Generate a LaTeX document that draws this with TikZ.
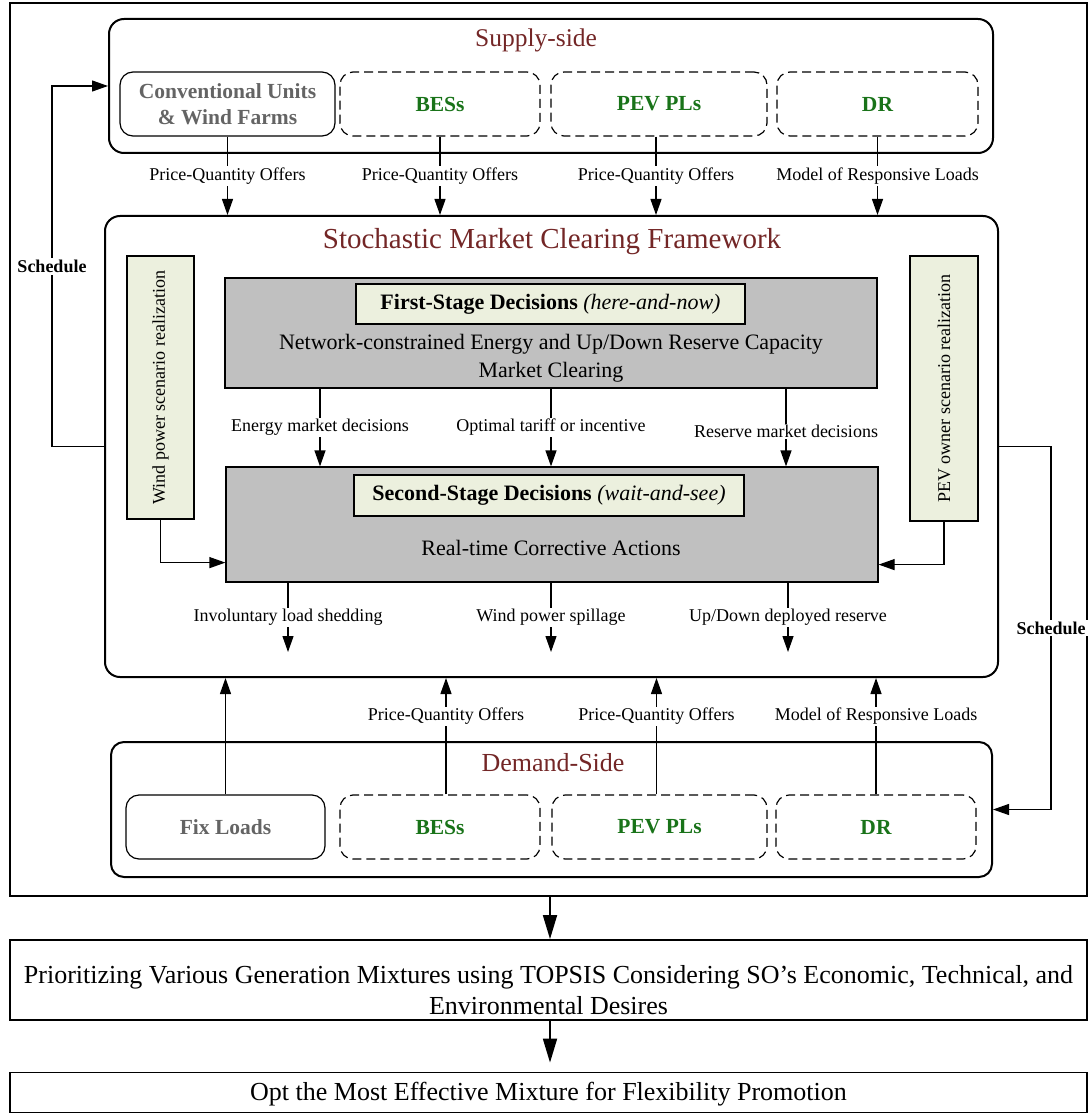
\documentclass[tikz,border=0pt]{standalone}
\usepackage{fontspec}
\setmainfont{Liberation Serif}
\usetikzlibrary{arrows.meta,calc}
\definecolor{titlered}{RGB}{115,38,38}
\definecolor{grn}{RGB}{25,115,25}
\definecolor{txtgray}{RGB}{100,100,100}
\definecolor{beige}{RGB}{236,240,222}
\definecolor{boxgray}{RGB}{192,192,192}
\newcommand\fsz[2]{\fontsize{#1}{#2}\selectfont}
\begin{document}
\begin{tikzpicture}[x=1pt,y=-1pt,
  plainbox/.style={draw, line width=1.5pt, inner sep=0pt},
  bigbox/.style={draw, line width=2pt, rounded corners=15pt, inner sep=0pt},
  solidsub/.style={draw, line width=1.2pt, rounded corners=13pt, inner sep=0pt, text=txtgray, font=\fsz{21.5}{26}\bfseries, align=center},
  dashsub/.style={draw, line width=1.2pt, dash pattern=on 9pt off 5pt, rounded corners=13pt, inner sep=0pt, text=grn, font=\fsz{21.5}{25}\bfseries},
  graybox/.style={draw, line width=1.2pt, fill=boxgray, inner sep=0pt},
  tagbox/.style={draw, line width=1.2pt, fill=beige, inner sep=0pt},
  title/.style={text=titlered, inner sep=0pt},
  arr/.style={-{Triangle[length=16pt,width=11pt]}, line width=1.2pt},
  bigarr/.style={-{Triangle[length=24pt,width=14pt]}, line width=1.8pt},
  lbl/.style={fill=white, inner sep=1.5pt, font=\fsz{18}{20}},
  sched/.style={fill=white, inner sep=2pt, font=\fsz{18}{20}\bfseries},
  rot/.style={rotate=90, inner sep=0pt, font=\fsz{18}{20}}
]
\useasboundingbox (0,0) rectangle (1089,1115);

% outer frame
\node[plainbox, minimum width=1077pt, minimum height=893pt] (frame) at (548.5,449.5) {};

% supply side
\node[bigbox, minimum width=884pt, minimum height=134pt] (supply) at (551,86) {};
\node[title, font=\fsz{25.5}{28}] (suptitle) at (536,40) {Supply-side};
\node[solidsub, minimum width=215pt, minimum height=64pt] (conv) at (227.5,104) {Conventional Units\\\& Wind Farms};
\node[dashsub, minimum width=200pt, minimum height=64pt] (sBES) at (440,104) {BESs};
\node[dashsub, minimum width=216pt, minimum height=64pt] (sPEV) at (659,104) {PEV PLs};
\node[dashsub, minimum width=201pt, minimum height=64pt] (sDR) at (877.5,104) {DR};

% stochastic framework
\node[bigbox, minimum width=893pt, minimum height=461pt] (stoch) at (551.5,446.5) {};
\node[title, font=\fsz{29}{32}] (stitle) at (552,242) {Stochastic Market Clearing Framework};

\node[tagbox, minimum width=67pt, minimum height=263pt] (wind) at (160.5,387.5) {};
\node[rot] (windtxt) at (wind.center) {Wind power scenario realization};
\node[tagbox, minimum width=68pt, minimum height=265pt] (pevo) at (944,388.5) {};
\node[rot] (pevotxt) at (pevo.center) {PEV owner scenario realization};

\node[graybox, minimum width=652pt, minimum height=110pt] (first) at (551,333) {};
\node[tagbox, minimum width=389pt, minimum height=40pt, font=\fsz{22}{24}] (firstlab) at (550.5,304) {\textbf{First-Stage Decisions} \textit{(here-and-now)}};
\node[inner sep=0pt, align=center, font=\fsz{22}{28}] (firsttxt) at (551,358) {Network-constrained Energy and Up/Down Reserve Capacity\\Market Clearing};

\node[graybox, minimum width=652pt, minimum height=115pt] (second) at (552,524.5) {};
\node[tagbox, minimum width=390pt, minimum height=41pt, font=\fsz{22}{24}] (secondlab) at (549,495.5) {\textbf{Second-Stage Decisions} \textit{(wait-and-see)}};
\node[inner sep=0pt, font=\fsz{22}{24}] (secondtxt) at (551,548) {Real-time Corrective Actions};

% demand side
\node[bigbox, rounded corners=13pt, minimum width=881pt, minimum height=135pt] (demand) at (551.5,809.5) {};
\node[title, font=\fsz{26}{28}] (dtitle) at (553,763) {Demand-Side};
\node[solidsub, minimum width=199pt, minimum height=64pt] (fix) at (225.5,827) {Fix Loads};
\node[dashsub, minimum width=200pt, minimum height=64pt] (dBES) at (440,827) {BESs};
\node[dashsub, minimum width=215pt, minimum height=64pt] (dPEV) at (659.5,827) {PEV PLs};
\node[dashsub, minimum width=200pt, minimum height=64pt] (dDR) at (876,827) {DR};

% bottom boxes
\node[plainbox, line width=1.8pt, minimum width=1077pt, minimum height=80pt] (topsis) at (548.5,980) {};
\node[inner sep=0pt, align=center, font=\fsz{26}{31}] (topsistxt) at (548.5,990) {Prioritizing Various Generation Mixtures using TOPSIS Considering SO’s Economic, Technical, and\\Environmental Desires};
\node[plainbox, line width=1.8pt, minimum width=1077pt, minimum height=40pt] (opt) at (548.5,1092.5) {};
\node[inner sep=0pt, font=\fsz{26}{28}] (opttxt) at (548.5,1094) {Opt the Most Effective Mixture for Flexibility Promotion};

% supply -> stochastic
\draw[arr] (conv.south) -- (conv.south |- stoch.north) node[lbl, midway] {Price-Quantity Offers};
\draw[arr] (sBES.south) -- (sBES.south |- stoch.north) node[lbl, midway] {Price-Quantity Offers};
\draw[arr] ([xshift=-3pt]sPEV.south) -- ([xshift=-3pt]sPEV.south |- stoch.north) node[lbl, midway] {Price-Quantity Offers};
\draw[arr] (sDR.south) -- (sDR.south |- stoch.north) node[lbl, midway] {Model of Responsive Loads};

% first -> second
\draw[arr] ([xshift=-231pt]first.south) -- ([xshift=-231pt]first.south |- second.north) node[lbl, midway] {Energy market decisions};
\draw[arr] (first.south) -- (first.south |- second.north) node[lbl, midway] {Optimal tariff or incentive};
\draw[arr] ([xshift=235pt]first.south) -- ([xshift=235pt]first.south |- second.north) node[lbl, pos=0.55] {Reserve market decisions};

% scenario inputs
\draw[arr] (wind.south) |- ([yshift=20pt]second.south west);
\draw[arr] (pevo.south) |- ([yshift=18pt]second.south east);

% second outputs
\coordinate (o1) at (288,652);
\coordinate (o2) at (551,652);
\coordinate (o3) at (788,652);
\draw[arr] (second.south -| o1) -- (o1) node[lbl, midway] {Involuntary load shedding};
\draw[arr] (second.south -| o2) -- (o2) node[lbl, midway] {Wind power spillage};
\draw[arr] (second.south -| o3) -- (o3) node[lbl, midway] {Up/Down deployed reserve};

% schedules
\coordinate (sl) at (52,447);
\coordinate (sr) at (1051,447);
\draw[arr] (stoch.west) -- (stoch.west -| sl) -- (sl |- supply.west) node[sched, midway] {Schedule} -- (supply.west);
\draw[arr] (stoch.east) -- (stoch.east -| sr) -- (sr |- demand.east) node[sched, midway] {Schedule} -- (demand.east);

% demand -> stochastic
\draw[arr] (fix.north) -- (fix.north |- stoch.south);
\draw[arr] ([xshift=6pt]dBES.north) -- ([xshift=6pt]dBES.north |- stoch.south) node[lbl, pos=0.67] {Price-Quantity Offers};
\draw[arr] ([xshift=-3pt]dPEV.north) -- ([xshift=-3pt]dPEV.north |- stoch.south) node[lbl, pos=0.67] {Price-Quantity Offers};
\draw[arr] (dDR.north) -- (dDR.north |- stoch.south) node[lbl, pos=0.67] {Model of Responsive Loads};

% bottom flow
\draw[bigarr] ([xshift=1.5pt]frame.south) -- ([xshift=1.5pt]topsis.north);
\draw[bigarr, shorten >=9pt] ([xshift=1.5pt]topsis.south) -- ([xshift=1.5pt]opt.north);
\end{tikzpicture}
\end{document}
